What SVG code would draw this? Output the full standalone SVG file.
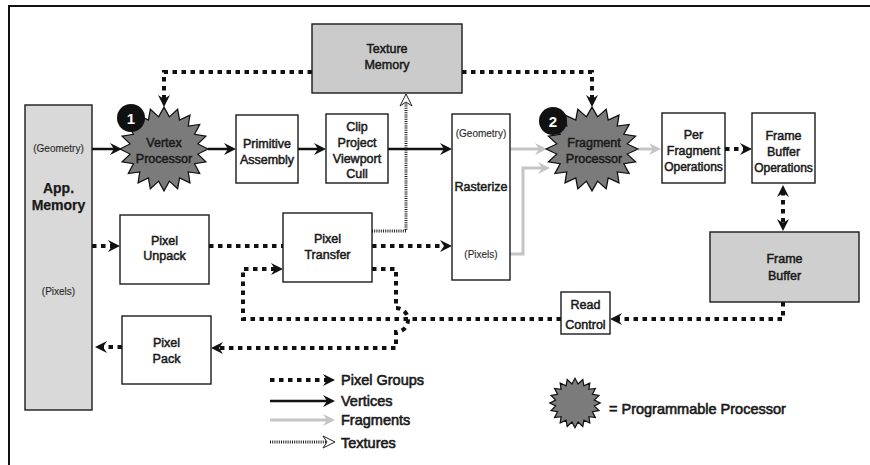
<svg xmlns="http://www.w3.org/2000/svg" width="870" height="465" viewBox="0 0 870 465">
  <defs>
    <style>
      .box { fill: #ffffff; stroke: #1a1a1a; stroke-width: 1.4; }
      .mem { stroke: #1a1a1a; stroke-width: 1.4; }
      .lbl { font-family: "Liberation Sans", Arial, sans-serif; font-size: 12.5px; fill: #1a1a1a; stroke: #1a1a1a; stroke-width: 0.5; text-anchor: middle; }
      .op { font-size: 12px; }
      .big { font-size: 14px; font-weight: bold; stroke-width: 0.25; }
      .sm { font-size: 10px; stroke-width: 0.15; fill: #333; }
      .leg { font-family: "Liberation Sans", Arial, sans-serif; font-size: 14.5px; fill: #1a1a1a; stroke: #1a1a1a; stroke-width: 0.6; }
      .badge { font-family: "Liberation Sans", Arial, sans-serif; font-size: 15px; font-weight: bold; fill: #ffffff; text-anchor: middle; }
      .pix { fill: none; stroke: #111; stroke-width: 4; stroke-dasharray: 4.5 4.5; }
      .vtx { fill: none; stroke: #111; stroke-width: 2.5; }
      .frg { fill: none; stroke: #c4c4c4; stroke-width: 3; }
      .tex { fill: none; stroke: #222; stroke-width: 3; stroke-dasharray: 1 1.2; }
      .proc { fill: #7b7b7b; stroke: #111; }
    </style>
    <!-- dart-shaped arrowheads; the tip sits 6px past the path end -->
    <marker id="aPix" viewBox="-7 -7 14 14" refX="0" refY="0" markerWidth="14" markerHeight="14" markerUnits="userSpaceOnUse" orient="auto-start-reverse">
      <path d="M6,0 L-6,-6 L-2,0 L-6,6 Z" fill="#111"/>
    </marker>
    <marker id="aVtx" viewBox="-7 -7 14 14" refX="0" refY="0" markerWidth="14" markerHeight="14" markerUnits="userSpaceOnUse" orient="auto">
      <path d="M6,0 L-6,-6 L-2,0 L-6,6 Z" fill="#111"/>
    </marker>
    <marker id="aFrg" viewBox="-7 -7 14 14" refX="0" refY="0" markerWidth="14" markerHeight="14" markerUnits="userSpaceOnUse" orient="auto">
      <path d="M6,0 L-6,-6 L-2,0 L-6,6 Z" fill="#c4c4c4"/>
    </marker>
    <marker id="aTex" viewBox="-7 -7 14 14" refX="0" refY="0" markerWidth="14" markerHeight="14" markerUnits="userSpaceOnUse" orient="auto">
      <path d="M6,0 L-6,-6 L-2,0 L-6,6 Z" fill="#ffffff" stroke="#222" stroke-width="1"/>
    </marker>
    <!-- 20-point burst used for programmable processors -->
    <path id="star" d="M45,0 L34.57,5.47 L42.8,13.91 L31.19,15.89 L36.41,26.45 L24.75,24.75 L26.45,36.41 L15.89,31.19 L13.91,42.8 L5.47,34.57 L0,45 L-5.47,34.57 L-13.91,42.8 L-15.89,31.19 L-26.45,36.41 L-24.75,24.75 L-36.41,26.45 L-31.19,15.89 L-42.8,13.91 L-34.57,5.47 L-45,0 L-34.57,-5.47 L-42.8,-13.91 L-31.19,-15.89 L-36.41,-26.45 L-24.75,-24.75 L-26.45,-36.41 L-15.89,-31.19 L-13.91,-42.8 L-5.47,-34.57 L0,-45 L5.47,-34.57 L13.91,-42.8 L15.89,-31.19 L26.45,-36.41 L24.75,-24.75 L36.41,-26.45 L31.19,-15.89 L42.8,-13.91 L34.57,-5.47 Z"/>
  </defs>

  <rect width="870" height="465" fill="#ffffff"/>

  <!-- frame edges -->
  <path d="M9,465 V6 H870" fill="none" stroke="#111" stroke-width="2"/>

  <!-- connectors -->
  <g id="connectors">
    <!-- vertices -->
    <path class="vtx" d="M92,149 H116" marker-end="url(#aVtx)"/>
    <path class="vtx" d="M208,149 H230" marker-end="url(#aVtx)"/>
    <path class="vtx" d="M298,149 H320" marker-end="url(#aVtx)"/>
    <path class="vtx" d="M388,149 H446" marker-end="url(#aVtx)"/>
    <!-- fragments -->
    <path class="frg" d="M510,149 H541" marker-end="url(#aFrg)"/>
    <path class="frg" d="M510,254 H523 V168 H544" marker-end="url(#aFrg)"/>
    <path class="frg" d="M638,149 H655" marker-end="url(#aFrg)"/>
    <!-- textures -->
    <path class="tex" d="M372,231 H406 V100" marker-end="url(#aTex)"/>
    <!-- pixel groups -->
    <path class="pix" d="M312,72 H164 V101" marker-end="url(#aPix)"/>
    <path class="pix" d="M462,72 H592 V101" marker-end="url(#aPix)"/>
    <path class="pix" d="M92,246 H114" marker-end="url(#aPix)"/>
    <path class="pix" d="M209,246 H283"/>
    <path class="pix" d="M372,246 H446" marker-end="url(#aPix)"/>
    <path class="pix" d="M725,149 H746" marker-end="url(#aPix)"/>
    <path class="pix" d="M783,191 V225" marker-start="url(#aPix)" marker-end="url(#aPix)"/>
    <path class="pix" d="M783,302 V319 H616" marker-end="url(#aPix)"/>
    <path class="pix" d="M561,319 H243 V269 H277" marker-end="url(#aPix)"/>
    <path class="pix" d="M372,269 H396 V308 A12,12 0 0 1 396,332 V348 H217" marker-end="url(#aPix)"/>
    <path class="pix" d="M122,347 H101" marker-end="url(#aPix)"/>
  </g>

  <!-- application memory -->
  <g id="app-memory">
    <rect class="mem" x="25" y="105" width="67" height="305" fill="#d9d9d9"/>
    <text class="lbl sm" x="58.5" y="152">(Geometry)</text>
    <text class="lbl big" x="58.5" y="193">App.</text>
    <text class="lbl big" x="58.5" y="210">Memory</text>
    <text class="lbl sm" x="58.5" y="295">(Pixels)</text>
  </g>

  <g id="texture-memory">
    <rect class="mem" x="312" y="24" width="150" height="69" fill="#cbcbcb"/>
    <text class="lbl" x="387" y="53">Texture</text>
    <text class="lbl" x="387" y="69">Memory</text>
  </g>

  <g id="vertex-processor">
    <use href="#star" class="proc" stroke-width="1.3" transform="translate(164,149) scale(0.98,0.93)"/>
    <text class="lbl" x="164" y="147">Vertex</text>
    <text class="lbl" x="164" y="163">Processor</text>
    <circle cx="131" cy="118" r="14" fill="#111"/>
    <text class="badge" x="131" y="123.5">1</text>
  </g>

  <g id="primitive-assembly">
    <rect class="box" x="236" y="115" width="62" height="68"/>
    <text class="lbl" x="267" y="148">Primitive</text>
    <text class="lbl" x="267" y="164">Assembly</text>
  </g>

  <g id="clip">
    <rect class="box" x="326" y="114" width="62" height="69"/>
    <text class="lbl" x="357" y="131">Clip</text>
    <text class="lbl" x="357" y="147">Project</text>
    <text class="lbl" x="357" y="163">Viewport</text>
    <text class="lbl" x="357" y="178">Cull</text>
  </g>

  <g id="rasterize">
    <rect class="box" x="452" y="114" width="58" height="166"/>
    <text class="lbl sm" x="481" y="137">(Geometry)</text>
    <text class="lbl" x="481" y="191">Rasterize</text>
    <text class="lbl sm" x="481" y="258">(Pixels)</text>
  </g>

  <g id="fragment-processor">
    <use href="#star" class="proc" stroke-width="1.3" transform="translate(592,149) scale(1.02,0.93)"/>
    <text class="lbl" x="594" y="147">Fragment</text>
    <text class="lbl" x="594" y="163">Processor</text>
    <circle cx="553" cy="121" r="14" fill="#111"/>
    <text class="badge" x="553" y="126.5">2</text>
  </g>

  <g id="per-fragment-operations">
    <rect class="box" x="662" y="113" width="63" height="70"/>
    <text class="lbl" x="693.5" y="139">Per</text>
    <text class="lbl" x="693.5" y="155">Fragment</text>
    <text class="lbl op" x="693.5" y="171">Operations</text>
  </g>

  <g id="frame-buffer-operations">
    <rect class="box" x="752" y="113" width="63" height="70"/>
    <text class="lbl" x="783.5" y="140">Frame</text>
    <text class="lbl" x="783.5" y="156">Buffer</text>
    <text class="lbl op" x="783.5" y="172">Operations</text>
  </g>

  <g id="frame-buffer">
    <rect class="mem" x="710" y="232" width="149" height="70" fill="#cfcfcf"/>
    <text class="lbl" x="784.5" y="263">Frame</text>
    <text class="lbl" x="784.5" y="280">Buffer</text>
  </g>

  <g id="read-control">
    <rect class="box" x="561" y="292" width="49" height="42"/>
    <text class="lbl" x="585.5" y="309">Read</text>
    <text class="lbl" x="585.5" y="329">Control</text>
  </g>

  <g id="pixel-unpack">
    <rect class="box" x="120" y="215" width="89" height="69"/>
    <text class="lbl" x="164.5" y="245">Pixel</text>
    <text class="lbl" x="164.5" y="260">Unpack</text>
  </g>

  <g id="pixel-transfer">
    <rect class="box" x="283" y="213" width="89" height="69"/>
    <text class="lbl" x="327.5" y="243">Pixel</text>
    <text class="lbl" x="327.5" y="259">Transfer</text>
  </g>

  <g id="pixel-pack">
    <rect class="box" x="122" y="316" width="89" height="68"/>
    <text class="lbl" x="166.5" y="347">Pixel</text>
    <text class="lbl" x="166.5" y="363">Pack</text>
  </g>

  <!-- legend -->
  <g id="legend">
    <path class="pix" d="M270,380 H329" marker-end="url(#aPix)"/>
    <text class="leg" x="341" y="385">Pixel Groups</text>
    <path class="vtx" d="M270,401 H329" marker-end="url(#aVtx)"/>
    <text class="leg" x="341" y="406">Vertices</text>
    <path class="frg" d="M270,420 H329" marker-end="url(#aFrg)"/>
    <text class="leg" x="341" y="425">Fragments</text>
    <path class="tex" d="M270,442 H329" marker-end="url(#aTex)"/>
    <text class="leg" x="341" y="448">Textures</text>
    <use href="#star" class="proc" stroke-width="2.2" transform="translate(575,403) scale(0.56,0.55)"/>
    <text class="leg" x="609" y="414">= Programmable Processor</text>
  </g>
</svg>
